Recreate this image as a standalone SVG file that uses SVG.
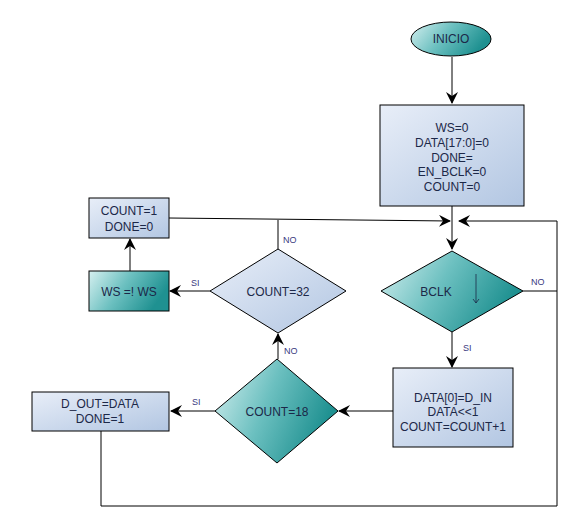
<svg xmlns="http://www.w3.org/2000/svg" width="572" height="522" viewBox="0 0 572 522">
<defs>
<linearGradient id="teal" x1="0" y1="0" x2="1" y2="0.35">
<stop offset="0" stop-color="#d6f0f0"/>
<stop offset="0.5" stop-color="#6cc0c0"/>
<stop offset="1" stop-color="#1f9191"/>
</linearGradient>
<linearGradient id="blue" x1="0" y1="0" x2="1" y2="1">
<stop offset="0" stop-color="#e8eef8"/>
<stop offset="1" stop-color="#b2c6e2"/>
</linearGradient>
<marker id="arr" viewBox="0 0 12 12" refX="11" refY="6" markerWidth="12" markerHeight="12" markerUnits="userSpaceOnUse" orient="auto">
<path d="M0,0 L12,6 L0,12 L4,6 Z" fill="#000"/>
</marker>
</defs>
<style>
.shape{stroke:#000;stroke-width:1}
.t{font-family:"Liberation Sans",Arial,sans-serif;font-size:12px;fill:#1c2848;text-anchor:middle}
.lbl{font-family:"Liberation Sans",Arial,sans-serif;font-size:9px;fill:#3a3a80}
.c{fill:none;stroke:#000;stroke-width:1}
</style>
<rect width="572" height="522" fill="#fff"/>
<g id="connectors">
<path class="c" d="M452,57 L452,103" marker-end="url(#arr)"/>
<path class="c" d="M452,206 L452,249" marker-end="url(#arr)"/>
<path class="c" d="M169,218 L450,221" marker-end="url(#arr)"/>
<path class="c" d="M278,249 L278,220"/>
<path class="c" d="M523,291 L557,291"/>
<path class="c" d="M101,431 L101,506 L557,506 L557,221 L459,221" marker-end="url(#arr)" stroke="#333"/>
<path class="c" d="M452,332 L452,367" marker-end="url(#arr)"/>
<path class="c" d="M393,411 L339,411" marker-end="url(#arr)"/>
<path class="c" d="M278,359 L278,334" marker-end="url(#arr)"/>
<path class="c" d="M215,411 L171,411" marker-end="url(#arr)"/>
<path class="c" d="M210,291 L170,291" marker-end="url(#arr)"/>
<path class="c" d="M130,271 L130,239" marker-end="url(#arr)"/>
<text class="lbl" x="283" y="243">NO</text>
<text class="lbl" x="531" y="285">NO</text>
<text class="lbl" x="463" y="351">SI</text>
<text class="lbl" x="284" y="354">NO</text>
<text class="lbl" x="191" y="286">SI</text>
<text class="lbl" x="192" y="405">SI</text>
</g>
<g id="inicio">
<ellipse class="shape" cx="451" cy="39" rx="40" ry="17" fill="url(#teal)"/>
<text class="t" x="451" y="43">INICIO</text>
</g>
<g id="init">
<rect class="shape" x="380" y="105" width="144" height="101" fill="url(#blue)"/>
<text class="t" x="452" y="132">WS=0</text>
<text class="t" x="452" y="147">DATA[17:0]=0</text>
<text class="t" x="452" y="162">DONE=</text>
<text class="t" x="452" y="176">EN_BCLK=0</text>
<text class="t" x="452" y="191">COUNT=0</text>
</g>
<g id="bclk">
<polygon class="shape" points="452,251 523,291 452,332 381,291" fill="url(#teal)"/>
<text class="t" x="436" y="296">BCLK</text>
<path d="M476,274 L476,303 M473,299 L476,303 L479,299" fill="none" stroke="#1c2848" stroke-width="0.8"/>
</g>
<g id="data">
<rect class="shape" x="393" y="368" width="120" height="79" fill="url(#blue)"/>
<text class="t" x="453" y="402">DATA[0]=D_IN</text>
<text class="t" x="453" y="416">DATA&lt;&lt;1</text>
<text class="t" x="453" y="431">COUNT=COUNT+1</text>
</g>
<g id="count18">
<polygon class="shape" points="277,359 338,411 277,463 215,411" fill="url(#teal)"/>
<text class="t" x="277" y="416">COUNT=18</text>
</g>
<g id="count32">
<polygon class="shape" points="278,249 346,291 278,333 210,291" fill="url(#blue)"/>
<text class="t" x="278" y="296">COUNT=32</text>
</g>
<g id="ws">
<rect class="shape" x="89" y="271" width="80" height="40" fill="url(#teal)"/>
<text class="t" x="129" y="296">WS =! WS</text>
</g>
<g id="count1">
<rect class="shape" x="89" y="198" width="80" height="40" fill="url(#blue)"/>
<text class="t" x="129" y="215">COUNT=1</text>
<text class="t" x="129" y="231">DONE=0</text>
</g>
<g id="dout">
<rect class="shape" x="32" y="392" width="137" height="39" fill="url(#blue)"/>
<text class="t" x="100" y="408">D_OUT=DATA</text>
<text class="t" x="100" y="423">DONE=1</text>
</g>
</svg>
